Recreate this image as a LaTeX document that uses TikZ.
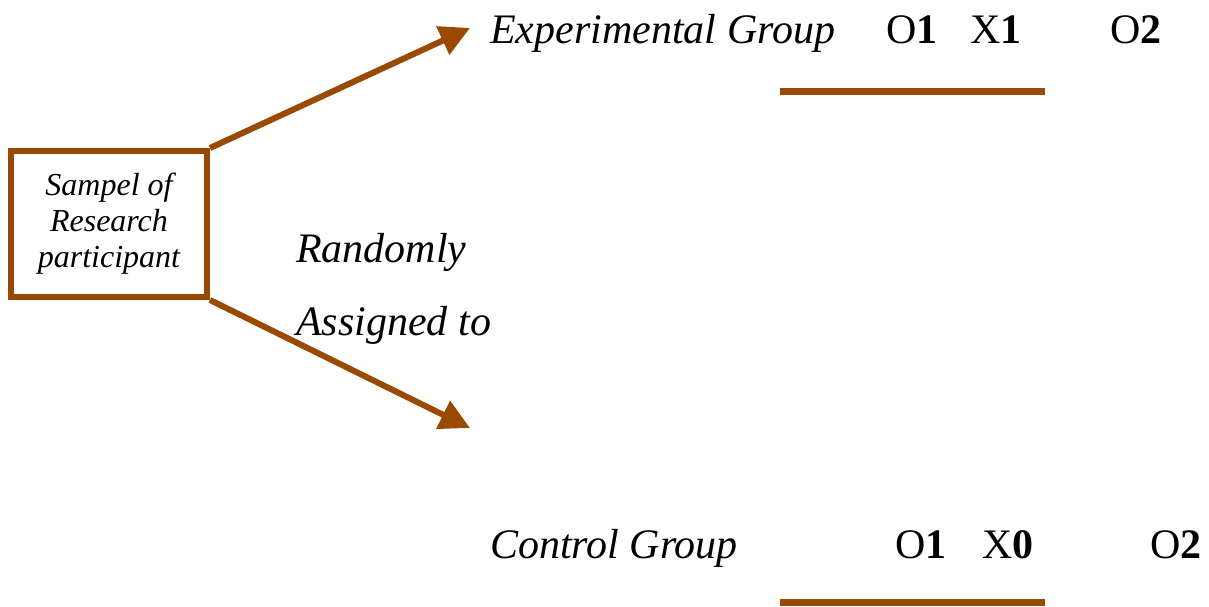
\documentclass[tikz,border=0pt]{standalone}
\usepackage{fontspec}
\setmainfont{Liberation Serif}
\usetikzlibrary{arrows.meta}
\definecolor{rustbrown}{RGB}{153,74,0}
\tikzset{
    grouplabel/.style={anchor=base west, inner sep=0pt, font=\fontsize{42}{46}\selectfont\itshape},
    score/.style={anchor=base west, inner sep=0pt, font=\fontsize{42}{46}\selectfont},
    assign/.style={rustbrown, line width=6pt, -{Triangle[length=30pt,width=30pt]}},
    bar/.style={rustbrown, line width=7pt}
}
\begin{document}
\begin{tikzpicture}[x=1pt,y=-1pt]
    \useasboundingbox (0,0) rectangle (1209,606);
    % sample box
    \node[draw=rustbrown, line width=6pt, minimum width=196pt, minimum height=146pt,
          align=center, font=\fontsize{32}{36}\selectfont\itshape, inner sep=0pt]
          (sample) at (109,224) {Sampel of\\Research\\participant};
    \coordinate (exptip) at (470,28);
    \coordinate (ctrltip) at (470,428);
    \draw[assign] (sample.north east) -- (exptip);
    \draw[assign] (sample.south east) -- (ctrltip);
    % random assignment
    \node[grouplabel] (rand) at (296,262) {Randomly};
    \node[grouplabel] (asg) at (296,335) {Assigned to};
    % experimental row
    \node[grouplabel] (exp) at (490,43) {Experimental Group};
    \node[score] (eo1) at (886,43) {O\textbf{1}};
    \node[score] (ex1) at (970,43) {X\textbf{1}};
    \node[score] (eo2) at (1110,43) {O\textbf{2}};
    \coordinate (ebarA) at (780,91);
    \coordinate (ebarB) at (1045,91);
    \draw[bar] (ebarA) -- (ebarB);
    % control row
    \node[grouplabel] (ctrl) at (490,558) {Control Group};
    \node[score] (co1) at (895,558) {O\textbf{1}};
    \node[score] (cx0) at (982,558) {X\textbf{0}};
    \node[score] (co2) at (1150,558) {O\textbf{2}};
    \coordinate (cbarA) at (780,602);
    \coordinate (cbarB) at (1045,602);
    \draw[bar] (cbarA) -- (cbarB);
\end{tikzpicture}
\end{document}
